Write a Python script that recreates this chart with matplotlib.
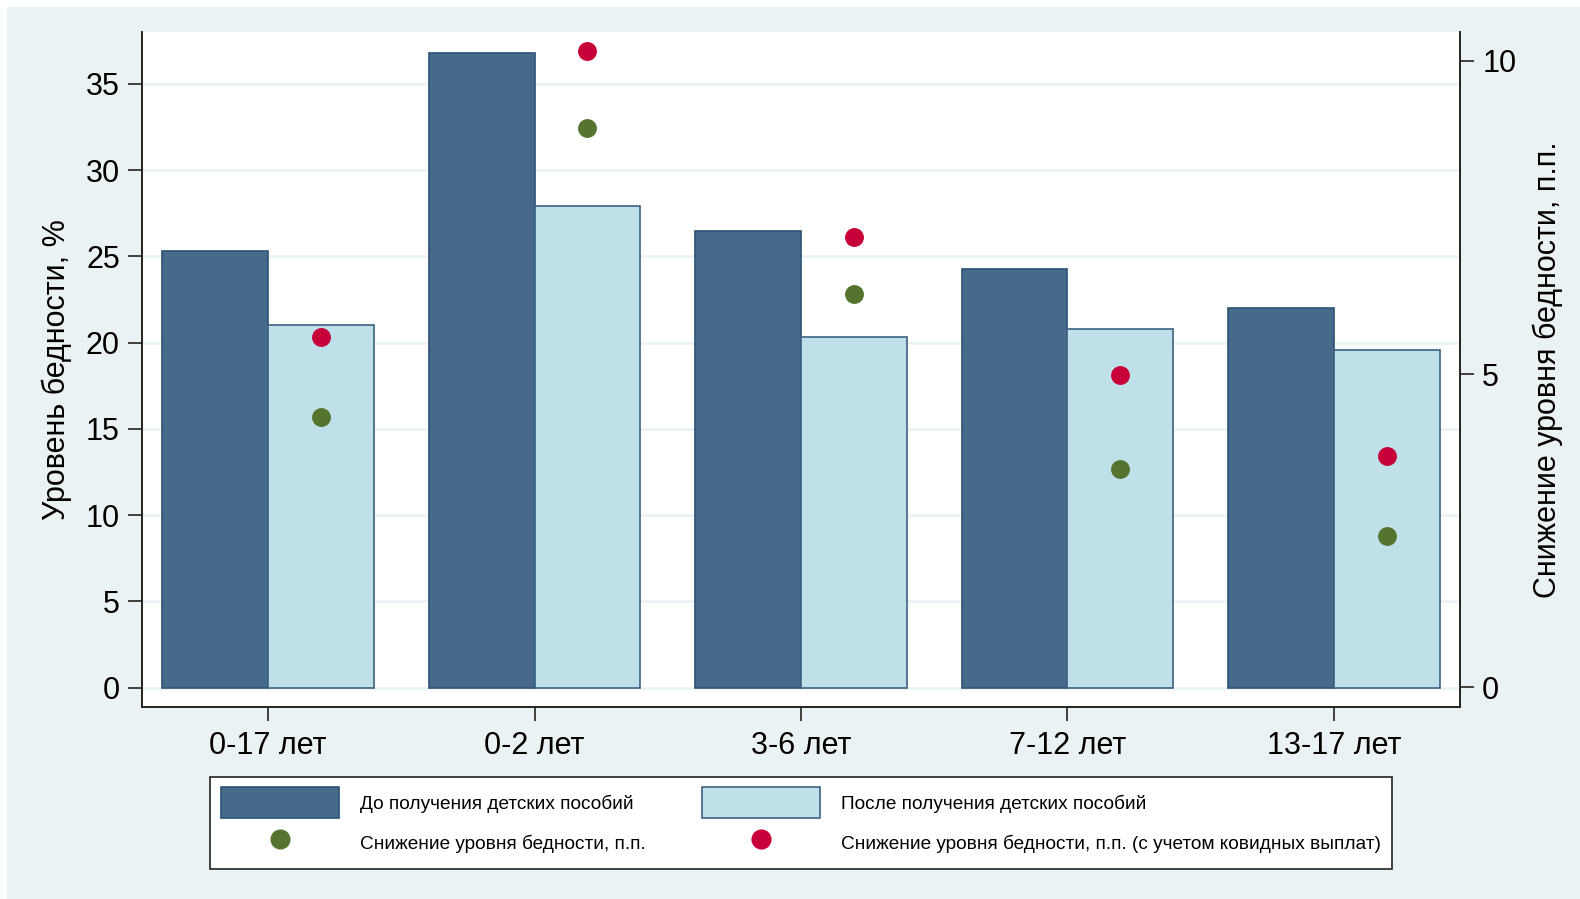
import numpy as np
import matplotlib
matplotlib.use("Agg")
import matplotlib.pyplot as plt
from matplotlib.patches import Patch, Rectangle
from matplotlib.lines import Line2D

plt.rcParams["font.family"] = ["Liberation Sans", "DejaVu Sans"]

# data
groups = ["0-17 лет", "0-2 лет", "3-6 лет", "7-12 лет", "13-17 лет"]
before = [25.3, 36.8, 26.5, 24.25, 22.0]
after = [21.05, 27.95, 20.3, 20.8, 19.6]
drop = [4.32, 8.92, 6.28, 3.48, 2.41]
drop_covid = [5.59, 10.16, 7.19, 4.99, 3.69]

left_ticks = [0, 5, 10, 15, 20, 25, 30, 35]
right_ticks = [0, 5, 10]

BG = "#eaf2f3"
DARK = "#486a8a"
DARK_EDGE = "#2c5276"
LIGHT = "#bfe0e9"
LIGHT_EDGE = "#3a6284"
GREEN = "#55752f"
RED = "#c8003a"

fig = plt.figure(figsize=(15.8, 8.99), dpi=100, facecolor="white")
fig.patches.append(Rectangle((7 / 1580, 0), 1, 892 / 899, transform=fig.transFigure,
                             facecolor=BG, edgecolor="none", zorder=-10))

ax = fig.add_axes([142 / 1580, 1 - 706.5 / 899, (1460 - 142) / 1580, (706.5 - 32.2) / 899])
ax.set_facecolor("white")

x = np.arange(len(groups))
w = 0.397
ax.bar(x - w / 2, before, w, color=DARK, edgecolor=DARK_EDGE, linewidth=1.2, zorder=3)
ax.bar(x + w / 2, after, w, color=LIGHT, edgecolor=LIGHT_EDGE, linewidth=1.2, zorder=3)

ax.set_xlim(-0.473, len(groups) - 1 + 0.473)
ax.set_ylim(-1.1, 38.0)
ax.set_yticks(left_ticks)
ax.set_xticks(x)
ax.set_xticklabels(groups)
ax.yaxis.grid(True, color=BG, linewidth=1.8, zorder=0)
ax.set_axisbelow(True)
ax.tick_params(axis="both", labelsize=22, length=10, width=1.3, color="#333333", pad=6)
ax.tick_params(axis="x", pad=8)
for s in ["top", "right"]:
    ax.spines[s].set_visible(False)
for s in ["left", "bottom"]:
    ax.spines[s].set_linewidth(1.4)
    ax.spines[s].set_color("#222222")
ax.set_ylabel("Уровень бедности, %", fontsize=22, labelpad=10)

ax2 = ax.twinx()
ax2.scatter(x + w / 2, drop, s=185, color=GREEN, zorder=5, linewidths=0)
ax2.scatter(x + w / 2, drop_covid, s=185, color=RED, zorder=5, linewidths=0)
ax2.set_ylim(-0.306, 10.455)
ax2.set_yticks(right_ticks)
ax2.tick_params(axis="y", labelsize=22, length=10, width=1.3, color="#333333", pad=6)
for s in ["top", "left", "bottom"]:
    ax2.spines[s].set_visible(False)
ax2.spines["right"].set_linewidth(1.4)
ax2.spines["right"].set_color("#222222")
ax2.set_ylabel("Снижение уровня бедности, п.п.", fontsize=22, labelpad=12)

handles = [
    Patch(facecolor=DARK, edgecolor=DARK_EDGE, linewidth=1.2),
    Line2D([], [], marker="o", linestyle="none", markersize=13.5, color=GREEN),
    Patch(facecolor=LIGHT, edgecolor=LIGHT_EDGE, linewidth=1.2),
    Line2D([], [], marker="o", linestyle="none", markersize=13.5, color=RED),
]
labels = [
    "До получения детских пособий",
    "Снижение уровня бедности, п.п.",
    "После получения детских пособий",
    "Снижение уровня бедности, п.п. (с учетом ковидных выплат)",
]
leg = fig.legend(handles, labels, ncol=2, loc="center",
                 bbox_to_anchor=(801 / 1580, 1 - 823 / 899),
                 fontsize=13.7, frameon=True, fancybox=False, shadow=False,
                 handlelength=6.2, handleheight=2.13, handletextpad=1.1,
                 columnspacing=3.0, labelspacing=0.52, borderpad=0.55,
                 borderaxespad=0)
leg.get_frame().set_edgecolor("#222222")
leg.get_frame().set_linewidth(1.2)
leg.get_frame().set_facecolor("white")
leg.get_frame().set_alpha(1)

fig.savefig("out.png", dpi=100, facecolor=fig.get_facecolor())
